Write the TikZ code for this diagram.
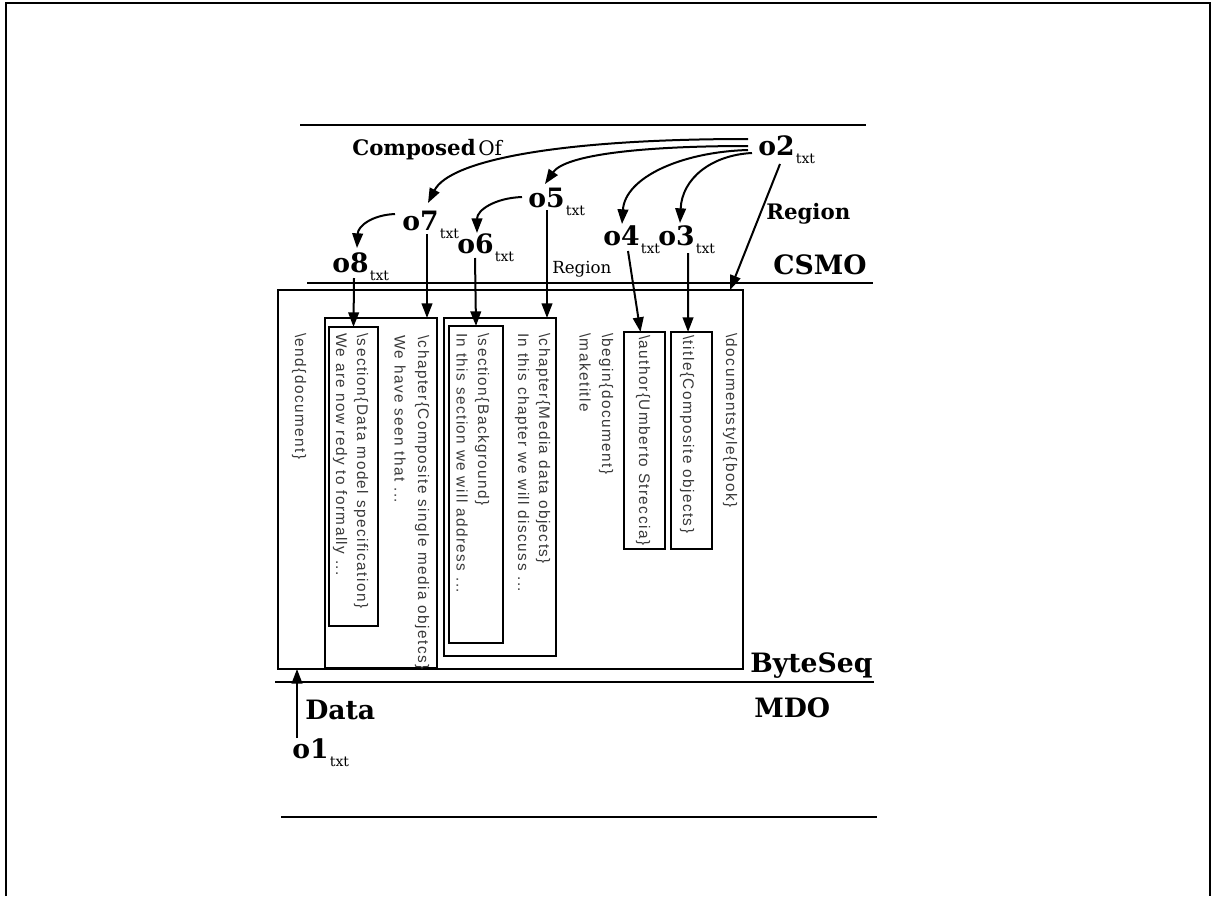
\documentclass[tikz,border=0pt]{standalone}
\usepackage{fontspec}
\setmainfont{DejaVu Serif}
\newfontfamily\codefont[LetterSpace=9.5]{Liberation Sans}
\usetikzlibrary{arrows.meta,fit}
% object label with its "txt" subscript
\newcommand\objlab[1]{o#1\kern1pt\raisebox{-6pt}{\mdseries\fontsize{10.5}{11}\selectfont txt}}
\begin{document}
\begin{tikzpicture}[x=0.75pt,y=-0.75pt,
  rule/.style={line width=2pt},
  frame/.style={line width=1.5pt},
  box/.style={draw, line width=1.6pt, inner sep=0pt, outer sep=0pt},
  thickbox/.style={box, line width=2pt},
  link/.style={line width=1.5pt, -{Triangle[length=11pt,width=8pt]}},
  code/.style={rotate=-90, anchor=west, inner sep=0pt, text=black!78,
    font=\codefont\fontsize{11.5}{13}\selectfont},
  obj/.style={anchor=base west, inner sep=0pt, font=\bfseries\fontsize{20}{24}\selectfont},
  layer/.style={anchor=base west, inner sep=0pt, font=\bfseries\fontsize{20}{24}\selectfont},
  rel/.style={anchor=base west, inner sep=0pt, font=\bfseries\fontsize{16}{19}\selectfont},
  relsmall/.style={anchor=base west, inner sep=0pt, font=\fontsize{12.5}{14}\selectfont},
]
\useasboundingbox (0,0) rectangle (1213,896);

% page frame
\draw[frame] (6,896) -- (6,3) -- (1210,3) -- (1210,896);

% layer separators
\draw[rule] (300,125) -- (866,125);
\draw[rule] (307,283) -- (873,283);
\draw[rule] (275,682) -- (874,682);
\draw[rule] (281,817) -- (877,817);

% byte sequence and its regions
\node[box, fit={(278,290) (743,669)}] (bseq) {};
\node[box, fit={(325,318) (437,668)}] (b7) {};
\node[thickbox, fit={(329,327) (378,626)}] (b8) {};
\node[box, fit={(444,318) (556,656)}] (b5) {};
\node[thickbox, fit={(449,326) (503,643)}] (b6) {};
\node[box, fit={(624,332) (665,549)}] (b4) {};
\node[box, fit={(671,332) (712,549)}] (b3) {};

% LaTeX source, one column per line
\node[code] (t1)  at (299,333) {\textbackslash end\{document\}};
\node[code] (t2)  at (361,333) {\textbackslash section\{Data model specification\}};
\node[code] (t3)  at (340,333) {We are now redy to formally ...};
\node[code] (t4)  at (422,335) {\textbackslash chapter\{Composite single media objetcs\}};
\node[code] (t5)  at (400,335) {We have seen that ...};
\node[code] (t6)  at (482,333) {\textbackslash section\{Background\}};
\node[code] (t7)  at (462,333) {In this section we will address ...};
\node[code] (t8)  at (543,333) {\textbackslash chapter\{Media data objects\}};
\node[code] (t9)  at (522,333) {In this chapter we will discuss ...};
\node[code] (t10) at (606,333) {\textbackslash begin\{document\}};
\node[code] (t11) at (585,333) {\textbackslash maketitle};
\node[code] (t12) at (643,335) {\textbackslash author\{Umberto Streccia\}};
\node[code] (t13) at (687,335) {\textbackslash title\{Composite objects\}};
\node[code] (t14) at (730,333) {\textbackslash documentstyle\{book\}};

% objects
\node[obj] (o2) at (758,155) {\objlab{2}};
\node[obj] (o5) at (528,207) {\objlab{5}};
\node[obj] (o7) at (402,230) {\objlab{7}};
\node[obj] (o6) at (457,253) {\objlab{6}};
\node[obj] (o8) at (332,272) {\objlab{8}};
\node[obj] (o4) at (603,245) {\objlab{4}};
\node[obj] (o3) at (658,245) {\objlab{3}};
\node[obj] (o1) at (292,758) {\objlab{1}};

% layer and relation names
\node[rel] (composed) at (352,155) {Composed};
\node[anchor=base west, inner sep=0pt, font=\fontsize{15}{18}\selectfont] (of) at (478,155) {Of};
\node[rel] (region1) at (766,219) {Region};
\node[relsmall] (region2) at (552,273) {Region};
\node[layer] (csmo) at (773,274) {CSMO};
\node[layer] (byteseq) at (750,672) {ByteSeq};
\node[layer] (mdo) at (754,717) {MDO};
\node[layer] (data) at (305,719) {Data};

% connector end points next to the object labels
\coordinate (o2a) at (748,139);
\coordinate (o2b) at (748,146);
\coordinate (o2c) at (748,150);
\coordinate (o2d) at (752,153);
\coordinate (o2e) at (780,164);
\coordinate (o7in) at (428,203);
\coordinate (o5in) at (545,184);
\coordinate (o4in) at (622,224);
\coordinate (o3in) at (680,223);
\coordinate (o5a) at (522,197);
\coordinate (o6in) at (477,233);
\coordinate (o7a) at (395,214);
\coordinate (o8in) at (357,248);
\coordinate (o8b) at (354,278);
\coordinate (o7b) at (427,234);
\coordinate (o6b) at (475,258);
\coordinate (o5b) at (547,210);
\coordinate (o4b) at (628,251);
\coordinate (o3b) at (688,253);
\coordinate (o1b) at (297,738);

% composition
\draw[link] (o2a) .. controls (560,139) and (450,160) .. (o7in);
\draw[link] (o2b) .. controls (640,146) and (565,155) .. (o5in);
\draw[link] (o2c) .. controls (680,152) and (625,178) .. (o4in);
\draw[link] (o2d) .. controls (712,155) and (682,178) .. (o3in);
\draw[link] (o5a) .. controls (495,198) and (477,210) .. (o6in);
\draw[link] (o7a) .. controls (372,215) and (358,226) .. (o8in);

% regions
\draw[link] (o2e) -- ([xshift=-9.75pt]bseq.north east);
\draw[link] (o8b) -- (b8.north);
\draw[link] (o7b) -- ([xshift=-7.5pt]b7.north east);
\draw[link] (o6b) -- (b6.north);
\draw[link] (o5b) -- ([xshift=-6.75pt]b5.north east);
\draw[link] (o4b) -- ([xshift=-3pt]b4.north);
\draw[link] (o3b) -- ([xshift=-2.6pt]b3.north);

% data
\draw[link] (o1b) -- ([xshift=14.25pt]bseq.south west);
\end{tikzpicture}
\end{document}
